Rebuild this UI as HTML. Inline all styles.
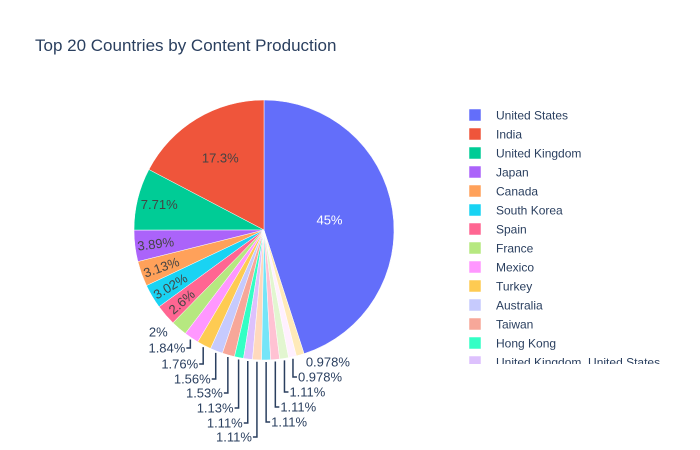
<!DOCTYPE html>
<html><head><meta charset="utf-8"><style>
html,body{margin:0;padding:0;background:#fff;width:700px;height:450px;overflow:hidden;}
svg{font-family:"Liberation Sans",Arial,sans-serif;display:block;}
</style></head><body>
<svg id="chart" width="700" height="450">
<rect width="700" height="450" fill="#fff"/>
<text x="35" y="51" font-size="17" fill="#2a3f5f">Top 20 Countries by Content Production</text>
<g id="slices"></g><g id="labels"></g>
<svg x="460" y="100" width="240" height="264" overflow="hidden"><g id="legend"></g></svg>
</svg>
<script>
const countries=["United States","India","United Kingdom","Japan","Canada","South Korea","Spain","France","Mexico","Turkey","Australia","Taiwan","Hong Kong","United Kingdom, United States","Germany","China","Brazil","Indonesia","Nigeria","Egypt"];
const values=[45,17.3,7.71,3.89,3.13,3.02,2.6,2,1.84,1.76,1.56,1.53,1.13,1.11,1.11,1.11,1.11,1.11,0.978,0.978];
const labelsTxt=["45%","17.3%","7.71%","3.89%","3.13%","3.02%","2.6%","2%","1.84%","1.76%","1.56%","1.53%","1.13%","1.11%","1.11%","1.11%","1.11%","1.11%","0.978%","0.978%"];
const colors=["#636efa","#EF553B","#00cc96","#ab63fa","#FFA15A","#19d3f3","#FF6692","#B6E880","#FF97FF","#FECB52","#c6cafd","#f7a799","#33ffc5","#ddc1fd","#ffd9bd","#75e5f8","#ffc2d3","#e2f6d0","#fff0ff","#ffeab9"];
const NS="http://www.w3.org/2000/svg";
const cx=264,cy=230,R=130;
const total=values.reduce((a,b)=>a+b,0);
function mk(t,a,p){const e=document.createElementNS(NS,t);for(const k in a)e.setAttribute(k,a[k]);p.appendChild(e);return e;}
function pt(ang,r){return [cx+r*Math.sin(ang),cy-r*Math.cos(ang)];}
const S=document.getElementById('slices'),L=document.getElementById('labels');
let ccw=0;const spans=[];
const usA=values[0]/total*2*Math.PI;spans[0]=[0,usA];
for(let i=1;i<values.length;i++){const a=values[i]/total*2*Math.PI;spans[i]=[-ccw-a,-ccw];ccw+=a;}
let leftIdx=0;
const leftY=[332,348,364,379,393,408,423,437];
for(let i=0;i<values.length;i++){
  const [a0,a1]=spans[i];const p0=pt(a0,R),p1=pt(a1,R);const large=(a1-a0)>Math.PI?1:0;
  const path=mk('path',{d:`M${cx},${cy}L${p0[0]},${p0[1]}A${R},${R} 0 ${large} 1 ${p1[0]},${p1[1]}Z`,fill:colors[i],stroke:'#fff','stroke-width':0.5},S);
  
  
  const mid=(a0+a1)/2;const frac=values[i]/total;
  if(frac>0.025){
    const rr=frac>0.3?0.51*R:frac>0.1?0.65*R:frac>0.05?0.83*R:0.84*R;
    const p=pt(mid,rr);
    const t=mk('text',{x:p[0],y:p[1]+5,'font-size':13,'text-anchor':'middle',fill:i==0?'#fff':'#444'},L);
    if(frac<0.05){const deg=mid*180/Math.PI+90;t.setAttribute('transform',`rotate(${deg} ${p[0]} ${p[1]})`);}
    t.textContent=labelsTxt[i];
    
    
  } else {
    const pe=pt(mid,R+2);
    const g=mk('g',{},L);
    
    
    if(pe[0]<cx-2||i<=12&&pe[0]<cx+5){
      const ly=leftY[leftIdx++];
      if(leftIdx>1){mk('path',{d:`M${pe[0]},${pe[1]}L${pe[0]},${ly}L${pe[0]-4},${ly}`,stroke:'#2a3f5f','stroke-width':1.5,fill:'none'},g);}
      const tx=leftIdx>1?pe[0]-5:pe[0]-10;
      const t=mk('text',{x:tx,y:ly+4.5,'font-size':13,'text-anchor':'end',fill:'#2a3f5f'},g);t.textContent=labelsTxt[i];
    } else {
      const ly=[362,377,392,407,422][values.length-1-i];
      if(ly>365){mk('path',{d:`M${pe[0]},${pe[1]}L${pe[0]},${ly}L${pe[0]+4},${ly}`,stroke:'#2a3f5f','stroke-width':1.5,fill:'none'},g);}
      const t=mk('text',{x:pe[0]+5,y:ly+4.5,'font-size':13,'text-anchor':'start',fill:'#2a3f5f'},g);t.textContent=labelsTxt[i];
    }
  }
}
const G=document.getElementById('legend');
for(let i=0;i<countries.length;i++){
  const y=15+i*19;
  if(y>275) break;
  const g=mk('g',{},G);
  
  
  mk('rect',{x:9,y:y-6,width:12,height:12,fill:colors[i],stroke:'#fff','stroke-width':0.5},g);
  const t=mk('text',{x:36,y:y+4.5,'font-size':12,fill:'#2a3f5f'},g);t.textContent=countries[i];
}
</script>
</body></html>
